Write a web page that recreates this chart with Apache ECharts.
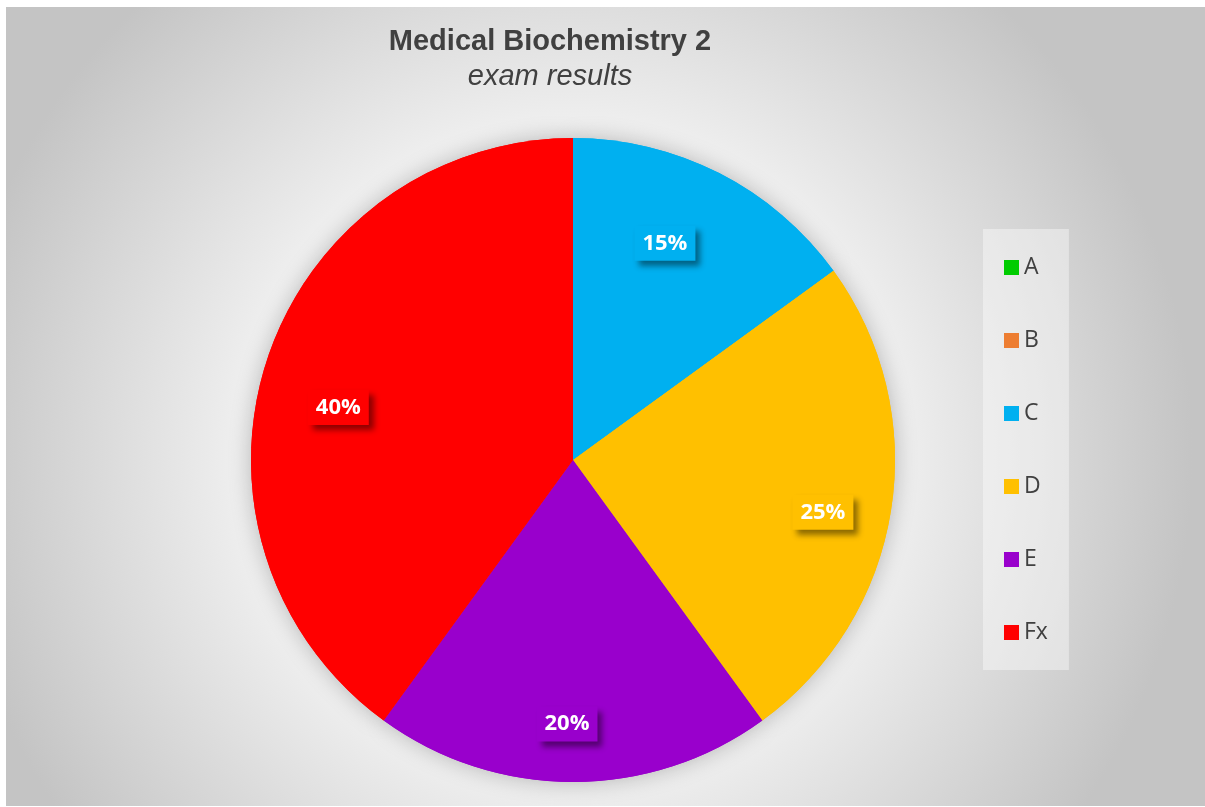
<!DOCTYPE html>
<html>
<head>
<meta charset="utf-8">
<script src="https://cdn.jsdelivr.net/npm/echarts@6/dist/echarts.min.js"></script>
<style>
  html, body { margin: 0; padding: 0; background: #ffffff; }
  #main { position: absolute; left: 6px; top: 7px; width: 1199px; height: 799px; }
</style>
</head>
<body>
<div id="main"></div>
<script>
var grades = ['A', 'B', 'C', 'D', 'E', 'Fx'];
var shares = [0, 0, 15, 25, 20, 40];
var gradeColors = ['#00CC00', '#ED7D31', '#00B0F0', '#FFC000', '#9900CC', '#FF0000'];

var chart = echarts.init(document.getElementById('main'));

var pieCenter = [567, 453];
var pieRadius = 322;

// small nudges so the labels sit where Excel's "best fit" put them
var labelNudge = [[0, 0], [0, 0], [-22, 7], [2, 13], [-6, 13], [4, 25]];

function sliceData(withLabel) {
    return grades.map(function (g, i) {
        var d = { name: g, value: shares[i] };
        if (withLabel) {
            d.label = { show: shares[i] > 0, backgroundColor: gradeColors[i] };
        }
        return d;
    });
}

var option = {
    backgroundColor: {
        type: 'radial',
        x: 0.47, y: 0.56, r: 0.78,
        colorStops: [
            { offset: 0, color: '#ffffff' },
            { offset: 0.45, color: '#f6f6f6' },
            { offset: 1, color: '#c4c4c4' }
        ]
    },
    color: gradeColors,
    animation: false,
    title: {
        text: 'Medical Biochemistry 2',
        subtext: 'exam results',
        left: 539,
        top: 15,
        textAlign: 'center',
        itemGap: 6,
        textStyle: {
            color: '#404040',
            fontFamily: 'Liberation Sans',
            fontWeight: 'bold',
            fontSize: 29
        },
        subtextStyle: {
            color: '#404040',
            fontFamily: 'Liberation Sans',
            fontStyle: 'italic',
            fontSize: 29
        }
    },
    legend: {
        orient: 'vertical',
        left: 977,
        top: 222,
        data: grades,
        icon: 'rect',
        itemWidth: 15,
        itemHeight: 15,
        itemGap: 50,
        padding: [27, 21, 26, 21],
        backgroundColor: 'rgba(255,255,255,0.4)',
        textStyle: {
            color: '#404040',
            fontFamily: 'Open Sans',
            fontSize: 23
        }
    },
    series: [
        {
            // soft shadow behind the pie
            type: 'pie',
            silent: true,
            z: 1,
            center: pieCenter,
            radius: pieRadius,
            startAngle: 90,
            label: { show: false },
            labelLine: { show: false },
            itemStyle: {
                shadowBlur: 22,
                shadowColor: 'rgba(0,0,0,0.25)'
            },
            data: sliceData(false)
        },
        {
            type: 'pie',
            z: 2,
            center: pieCenter,
            radius: pieRadius,
            startAngle: 90,
            label: { show: false },
            labelLine: { show: false },
            data: sliceData(false)
        },
        {
            // label ring
            type: 'pie',
            z: 3,
            silent: true,
            center: pieCenter,
            radius: [174, pieRadius],
            startAngle: 90,
            percentPrecision: 0,
            itemStyle: { color: 'rgba(0,0,0,0)' },
            labelLine: { show: false },
            label: {
                position: 'inside',
                formatter: '{d}%',
                color: '#ffffff',
                fontFamily: 'Open Sans',
                fontWeight: 'bold',
                fontSize: 22,
                lineHeight: 22,
                padding: [6, 8, 7, 8],
                shadowColor: 'rgba(0,0,0,0.45)',
                shadowBlur: 6,
                shadowOffsetX: 5,
                shadowOffsetY: 5
            },
            labelLayout: function (params) {
                var n = labelNudge[params.dataIndex];
                return { dx: n[0], dy: n[1] };
            },
            data: sliceData(true)
        }
    ]
};

chart.setOption(option);
window.addEventListener('resize', function () { chart.resize(); });
</script>
</body>
</html>
